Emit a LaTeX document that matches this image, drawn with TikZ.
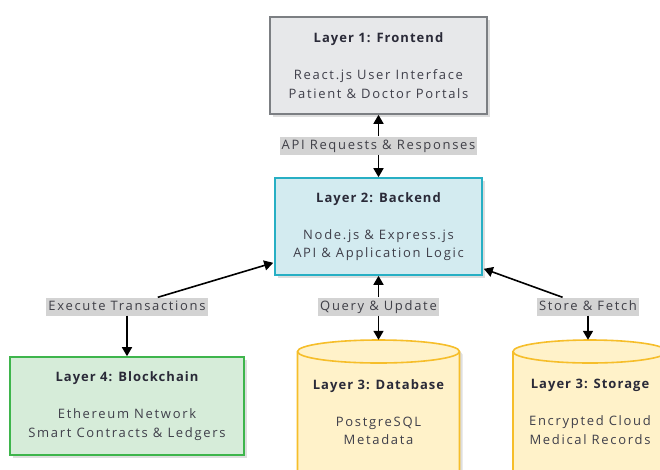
\documentclass[tikz,border=0pt]{standalone}
\usepackage{fontspec}
\setmainfont{Open Sans}[LetterSpace=13, BoldFeatures={LetterSpace=8}]
\usetikzlibrary{arrows.meta,shadows,calc}
\definecolor{frontfill}{HTML}{E7E8EA}
\definecolor{frontline}{HTML}{7C7F83}
\definecolor{backfill}{HTML}{D3EBF0}
\definecolor{backline}{HTML}{27AFC4}
\definecolor{chainfill}{HTML}{D6ECD9}
\definecolor{chainline}{HTML}{3EB54C}
\definecolor{cylfill}{HTML}{FFF2C9}
\definecolor{cylline}{HTML}{F6BE2A}
\definecolor{lblfill}{HTML}{D3D3D3}
\definecolor{lbltext}{HTML}{3F3F47}
\definecolor{titletext}{HTML}{2A2A38}
\definecolor{bodytext}{HTML}{3F3F4A}
\newcommand{\boxtext}[3]{{\bfseries\color{titletext}#1}\\[18.5pt]#2\\#3}
\begin{document}
\begin{tikzpicture}[x=1pt,y=-1pt,
  every node/.style={font=\fontsize{13}{18.5}\selectfont},
  layerbox/.style={rectangle, line width=1.6pt, align=center, text=bodytext,
    drop shadow={shadow xshift=3pt, shadow yshift=-3pt, fill=black, opacity=0.13}},
  cyltext/.style={align=center, text=bodytext},
  anchorbox/.style={rectangle, inner sep=0pt},
  lbl/.style={fill=lblfill, text=lbltext, inner xsep=2pt, inner ysep=2.5pt, text height=10pt, text depth=3pt},
  arr/.style={line width=1.6pt, -{Triangle[length=9pt,width=10pt]}},
  cyl/.style={fill=cylfill, draw=cylline, line width=1.6pt}
]
\useasboundingbox (0,0) rectangle (660,469);
\fill[white] (0,0) rectangle (660,469);

% Layer boxes
\node[layerbox, fill=frontfill, draw=frontline, minimum width=217pt, minimum height=97pt]
  (front) at (378.5,65.5) {\boxtext{Layer 1: Frontend}{React.js User Interface}{Patient \& Doctor Portals}};
\node[layerbox, fill=backfill, draw=backline, minimum width=207pt, minimum height=97pt]
  (back) at (378.5,226.5) {\boxtext{Layer 2: Backend}{Node.js \& Express.js}{API \& Application Logic}};
\node[layerbox, fill=chainfill, draw=chainline, minimum width=234pt, minimum height=98pt]
  (chain) at (127,406) {\boxtext{Layer 4: Blockchain}{Ethereum Network}{Smart Contracts \& Ledgers}};

% Cylinders (database and storage)
\node[anchorbox, minimum width=162pt, minimum height=135pt] (db) at (378.5,407.5) {};
\node[anchorbox, minimum width=154pt, minimum height=135pt] (store) at (590,407.5) {};
\foreach \cx/\rx in {378.5/81, 590/77} {
  \fill[black, opacity=0.13] (\cx-\rx+3,354.5) -- ++(0pt,-120pt) arc[start angle=180, end angle=360, x radius=\rx pt, y radius=11.5pt]
     -- ++(0pt,120pt) arc[start angle=0, end angle=180, x radius=\rx pt, y radius=11.5pt] -- cycle;
  \path[cyl] (\cx-\rx,351.5) -- ++(0pt,-120pt) arc[start angle=180, end angle=360, x radius=\rx pt, y radius=11.5pt]
     -- ++(0pt,120pt) arc[start angle=0, end angle=180, x radius=\rx pt, y radius=11.5pt] -- cycle;
  \draw[cylline, line width=1.6pt] (\cx-\rx,351.5) arc[start angle=180, end angle=360, x radius=\rx pt, y radius=11.5pt];
}
\node[cyltext] (dbtxt) at (378.5,412) {\boxtext{Layer 3: Database}{PostgreSQL}{Metadata}};
\node[cyltext] (storetxt) at (590,412) {\boxtext{Layer 3: Storage}{Encrypted Cloud}{Medical Records}};

% Labels
\node[lbl] (api) at (378.5,145.5) {API Requests \& Responses};
\node[lbl] (exec) at (127,306.5) {Execute Transactions};
\node[lbl] (query) at (378.5,306.5) {Query \& Update};
\node[lbl] (sf) at (588,306.5) {Store \& Fetch};

% Connectors
\draw[arr] (api) -- (front);
\draw[arr] (api) -- (back);
\draw[arr] (exec) -- ($(back.south west)+(-1,-13)$);
\draw[arr] (exec) -- (chain);
\draw[arr] (query) -- (back);
\draw[arr] (query) -- (db);
\draw[arr] (sf) -- ($(back.south east)+(1,-7)$);
\draw[arr] (sf) -- (sf |- store.north);
\end{tikzpicture}
\end{document}
